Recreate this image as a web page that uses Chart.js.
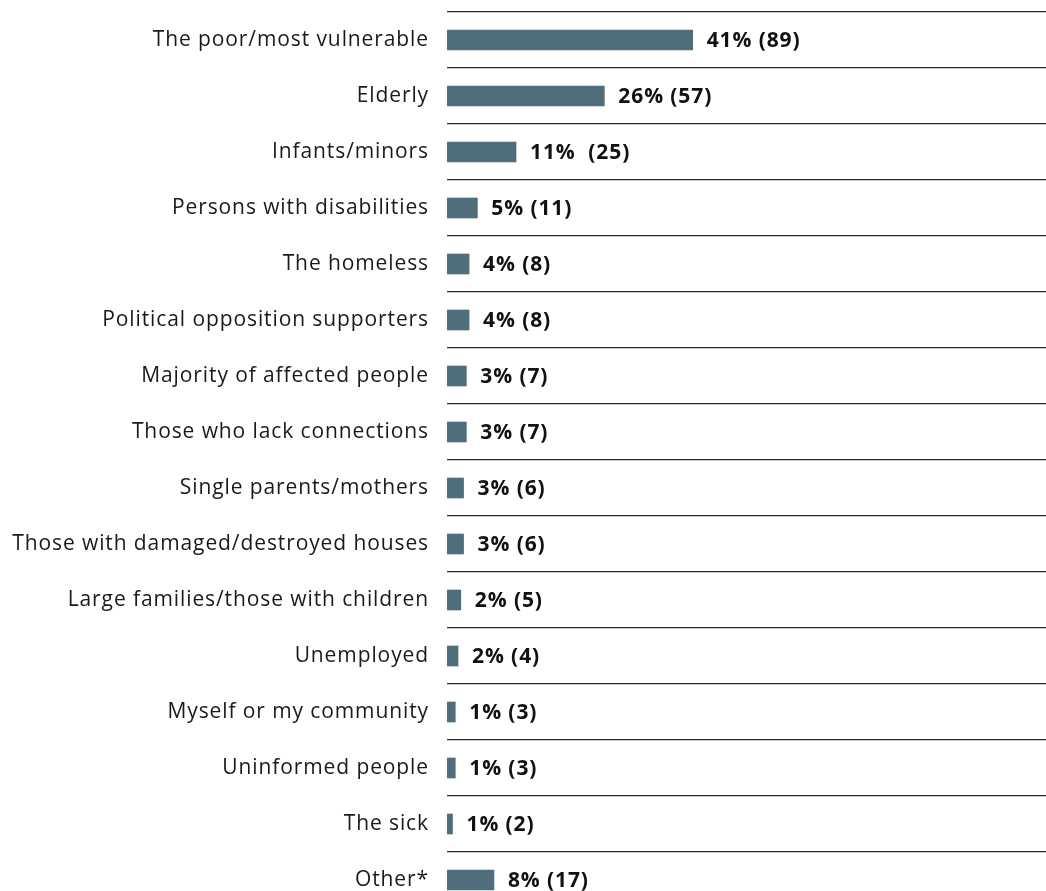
<!DOCTYPE html>
<html>
<head>
<meta charset="utf-8">
<script src="https://cdn.jsdelivr.net/npm/chart.js@4.4.1/dist/chart.umd.min.js"></script>
<style>
  html, body { margin: 0; padding: 0; background: #fff; overflow: hidden; }
  canvas { display: block; }
</style>
</head>
<body>
<canvas id="chart" width="1046" height="910"></canvas>
<script>
// categories, top to bottom
const categories = [
    'The poor/most vulnerable',
    'Elderly',
    'Infants/minors',
    'Persons with disabilities',
    'The homeless',
    'Political opposition supporters',
    'Majority of affected people',
    'Those who lack connections',
    'Single parents/mothers',
    'Those with damaged/destroyed houses',
    'Large families/those with children',
    'Unemployed',
    'Myself or my community',
    'Uninformed people',
    'The sick',
    'Other*'
];

// number of respondents (bar length)
const counts = [89, 57, 25, 11, 8, 8, 7, 7, 6, 6, 5, 4, 3, 3, 2, 17];

// share of respondents as printed
const percents = [41, 26, 11, 5, 4, 4, 3, 3, 3, 3, 2, 2, 1, 1, 1, 8];

const totalRespondents = 217;

const valueLabels = counts.map((c, i) => percents[i] + '%' + (i === 2 ? '  ' : ' ') + '(' + c + ')');

const barColor = '#506d7b';
const labelFont = '"Open Sans", "Lato", sans-serif';

// the reference type is set quite wide, so space the letters a little
const letterSpacingPlugin = {
    id: 'letterSpacing',
    beforeDraw(chart) {
        chart.ctx.letterSpacing = '0.9px';
    },
    afterDraw(chart) {
        chart.ctx.letterSpacing = '0px';
    }
};

// draw "41% (89)" after each bar
const valueLabelPlugin = {
    id: 'valueLabels',
    afterDatasetsDraw(chart) {
        const ctx = chart.ctx;
        const meta = chart.getDatasetMeta(0);
        ctx.save();
        ctx.font = 'bold 21px ' + labelFont;
        ctx.fillStyle = '#111';
        ctx.textBaseline = 'middle';
        ctx.textAlign = 'left';
        meta.data.forEach((bar, i) => {
            ctx.fillText(valueLabels[i], bar.x + 14, bar.y + 1);
        });
        ctx.restore();
    }
};

const ctx = document.getElementById('chart').getContext('2d');
new Chart(ctx, {
    type: 'bar',
    data: {
        labels: categories,
        datasets: [{
            data: counts,
            backgroundColor: barColor,
            barThickness: 20,
            borderWidth: 0
        }]
    },
    options: {
        indexAxis: 'y',
        responsive: false,
        animation: false,
        layout: { padding: { top: 12, right: 0, bottom: 2, left: 0 } },
        plugins: {
            legend: { display: false },
            tooltip: { enabled: false }
        },
        scales: {
            x: {
                display: false,
                min: 0,
                max: totalRespondents
            },
            y: {
                offset: true,
                border: { display: false },
                grid: {
                    offset: true,
                    drawTicks: false,
                    color: '#2b2b2b',
                    lineWidth: 1.2
                },
                ticks: {
                    padding: 18,
                    color: '#1a1a1a',
                    font: { family: labelFont, size: 21 }
                },
                afterFit(scale) {
                    scale.width = 447;
                    scale.paddingTop = 0;
                    scale.paddingBottom = 0;
                }
            }
        }
    },
    plugins: [letterSpacingPlugin, valueLabelPlugin]
});
</script>
</body>
</html>
